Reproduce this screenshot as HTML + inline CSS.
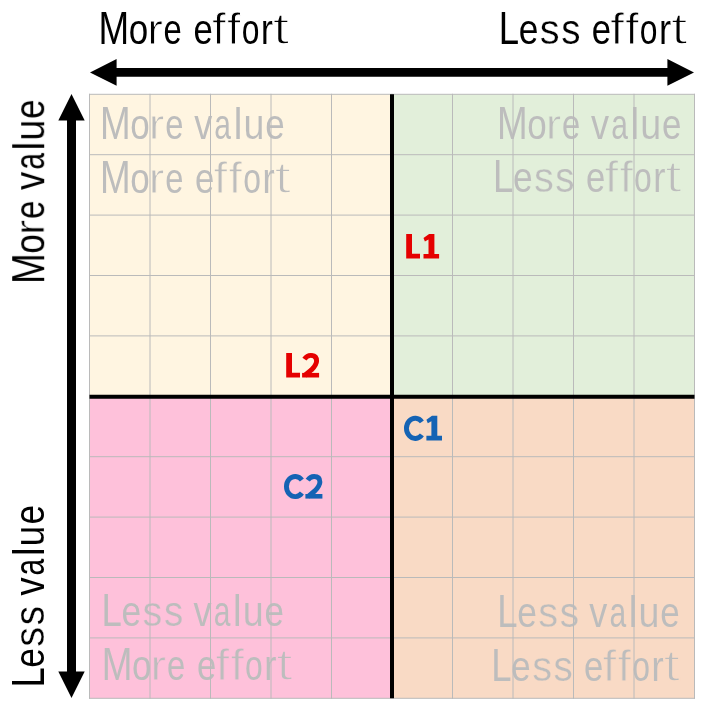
<!DOCTYPE html>
<html><head><meta charset="utf-8"><title>Value vs effort matrix</title>
<style>
html,body{margin:0;padding:0;background:#fff;width:706px;height:707px;overflow:hidden}
svg{display:block;position:absolute;left:0;top:0;will-change:transform}
text{font-family:"Liberation Sans",sans-serif;font-size:45.80px}
</style></head><body>
<svg width="706" height="707" viewBox="0 0 706 707">
<rect x="89.50" y="94.30" width="302.50" height="302.00" fill="#fff5e1"/>
<rect x="392.00" y="94.30" width="302.50" height="302.00" fill="#e2efda"/>
<rect x="89.50" y="396.30" width="302.50" height="302.00" fill="#fec1da"/>
<rect x="392.00" y="396.30" width="302.50" height="302.00" fill="#f9dac5"/>
<g id="gtext"><g id="g1" fill="#bdbdbd"><text transform="translate(100.06 139.20) scale(0.8041 1.0000)">M</text><text transform="translate(130.23 139.20) scale(0.7630 0.9200)">o</text><text transform="translate(148.73 139.20) scale(1.0236 0.9200)" stroke="#fff5e1" stroke-width="0.899">r</text><text transform="translate(165.21 139.20) scale(0.7166 0.9200)">e</text><text transform="translate(194.18 139.20) scale(0.7881 0.9200)">v</text><text transform="translate(214.33 139.20) scale(0.6546 0.9200)">a</text><text transform="translate(233.69 139.20) scale(0.8446 0.9600)">l</text><text transform="translate(243.40 139.20) scale(0.8230 0.9200)" stroke="#fff5e1" stroke-width="0.137">u</text><text transform="translate(265.22 139.20) scale(0.7631 0.9200)">e</text></g><g id="g2" fill="#bdbdbd"><text transform="translate(100.06 193.40) scale(0.8041 1.0000)">M</text><text transform="translate(130.23 193.40) scale(0.7630 0.9200)">o</text><text transform="translate(148.73 193.40) scale(1.0236 0.9200)" stroke="#fff5e1" stroke-width="0.899">r</text><text transform="translate(165.21 193.40) scale(0.7166 0.9200)">e</text><text transform="translate(195.12 193.40) scale(0.7585 0.9200)">e</text><text transform="translate(213.62 193.40) scale(1.0840 0.9600)" stroke="#fff5e1" stroke-width="1.073">f</text><text transform="translate(228.58 193.40) scale(1.0594 0.9600)" stroke="#fff5e1" stroke-width="1.005">f</text><text transform="translate(243.27 193.40) scale(0.6936 0.9200)">o</text><text transform="translate(262.18 193.40) scale(0.8351 0.9200)" stroke="#fff5e1" stroke-width="0.193">r</text><text transform="translate(274.20 193.40) scale(1.3298 0.9600)" stroke="#fff5e1" stroke-width="1.619">t</text></g><g id="g3" fill="#bdbdbd"><text transform="translate(496.96 138.60) scale(0.8041 1.0000)">M</text><text transform="translate(527.13 138.60) scale(0.7630 0.9200)">o</text><text transform="translate(545.63 138.60) scale(1.0236 0.9200)" stroke="#e2efda" stroke-width="0.899">r</text><text transform="translate(562.11 138.60) scale(0.7166 0.9200)">e</text><text transform="translate(591.08 138.60) scale(0.7881 0.9200)">v</text><text transform="translate(611.23 138.60) scale(0.6546 0.9200)">a</text><text transform="translate(630.59 138.60) scale(0.8446 0.9600)">l</text><text transform="translate(640.30 138.60) scale(0.8230 0.9200)" stroke="#e2efda" stroke-width="0.137">u</text><text transform="translate(662.12 138.60) scale(0.7631 0.9200)">e</text></g><g id="g4" fill="#bdbdbd"><text transform="translate(493.00 192.20) scale(0.7978 1.0000)">L</text><text transform="translate(512.90 192.20) scale(0.7724 0.9200)">e</text><text transform="translate(533.95 192.20) scale(0.8655 0.9200)" stroke="#e2efda" stroke-width="0.328">s</text><text transform="translate(555.34 192.20) scale(0.8404 0.9200)" stroke="#e2efda" stroke-width="0.218">s</text><text transform="translate(585.92 192.20) scale(0.7585 0.9200)">e</text><text transform="translate(604.42 192.20) scale(1.0840 0.9600)" stroke="#e2efda" stroke-width="1.073">f</text><text transform="translate(619.38 192.20) scale(1.0594 0.9600)" stroke="#e2efda" stroke-width="1.005">f</text><text transform="translate(634.07 192.20) scale(0.6936 0.9200)">o</text><text transform="translate(652.98 192.20) scale(0.8351 0.9200)" stroke="#e2efda" stroke-width="0.193">r</text><text transform="translate(665.00 192.20) scale(1.3298 0.9600)" stroke="#e2efda" stroke-width="1.619">t</text></g><g id="g5" fill="#bdbdbd"><text transform="translate(101.60 626.40) scale(0.7978 1.0000)">L</text><text transform="translate(121.50 626.40) scale(0.7724 0.9200)">e</text><text transform="translate(142.55 626.40) scale(0.8655 0.9200)" stroke="#fec1da" stroke-width="0.328">s</text><text transform="translate(163.94 626.40) scale(0.8404 0.9200)" stroke="#fec1da" stroke-width="0.218">s</text><text transform="translate(193.58 626.40) scale(0.7881 0.9200)">v</text><text transform="translate(213.73 626.40) scale(0.6546 0.9200)">a</text><text transform="translate(233.09 626.40) scale(0.8446 0.9600)">l</text><text transform="translate(242.80 626.40) scale(0.8230 0.9200)" stroke="#fec1da" stroke-width="0.137">u</text><text transform="translate(264.62 626.40) scale(0.7631 0.9200)">e</text></g><g id="g6" fill="#bdbdbd"><text transform="translate(101.86 680.40) scale(0.8041 1.0000)">M</text><text transform="translate(132.03 680.40) scale(0.7630 0.9200)">o</text><text transform="translate(150.53 680.40) scale(1.0236 0.9200)" stroke="#fec1da" stroke-width="0.899">r</text><text transform="translate(167.01 680.40) scale(0.7166 0.9200)">e</text><text transform="translate(196.92 680.40) scale(0.7585 0.9200)">e</text><text transform="translate(215.42 680.40) scale(1.0840 0.9600)" stroke="#fec1da" stroke-width="1.073">f</text><text transform="translate(230.38 680.40) scale(1.0594 0.9600)" stroke="#fec1da" stroke-width="1.005">f</text><text transform="translate(245.07 680.40) scale(0.6936 0.9200)">o</text><text transform="translate(263.98 680.40) scale(0.8351 0.9200)" stroke="#fec1da" stroke-width="0.193">r</text><text transform="translate(276.00 680.40) scale(1.3298 0.9600)" stroke="#fec1da" stroke-width="1.619">t</text></g><g id="g7" fill="#bdbdbd"><text transform="translate(497.30 627.40) scale(0.7978 1.0000)">L</text><text transform="translate(517.20 627.40) scale(0.7724 0.9200)">e</text><text transform="translate(538.25 627.40) scale(0.8655 0.9200)" stroke="#f9dac5" stroke-width="0.328">s</text><text transform="translate(559.64 627.40) scale(0.8404 0.9200)" stroke="#f9dac5" stroke-width="0.218">s</text><text transform="translate(589.28 627.40) scale(0.7881 0.9200)">v</text><text transform="translate(609.43 627.40) scale(0.6546 0.9200)">a</text><text transform="translate(628.79 627.40) scale(0.8446 0.9600)">l</text><text transform="translate(638.50 627.40) scale(0.8230 0.9200)" stroke="#f9dac5" stroke-width="0.137">u</text><text transform="translate(660.32 627.40) scale(0.7631 0.9200)">e</text></g><g id="g8" fill="#bdbdbd"><text transform="translate(491.20 681.20) scale(0.7978 1.0000)">L</text><text transform="translate(511.10 681.20) scale(0.7724 0.9200)">e</text><text transform="translate(532.15 681.20) scale(0.8655 0.9200)" stroke="#f9dac5" stroke-width="0.328">s</text><text transform="translate(553.54 681.20) scale(0.8404 0.9200)" stroke="#f9dac5" stroke-width="0.218">s</text><text transform="translate(584.12 681.20) scale(0.7585 0.9200)">e</text><text transform="translate(602.62 681.20) scale(1.0840 0.9600)" stroke="#f9dac5" stroke-width="1.073">f</text><text transform="translate(617.58 681.20) scale(1.0594 0.9600)" stroke="#f9dac5" stroke-width="1.005">f</text><text transform="translate(632.27 681.20) scale(0.6936 0.9200)">o</text><text transform="translate(651.18 681.20) scale(0.8351 0.9200)" stroke="#f9dac5" stroke-width="0.193">r</text><text transform="translate(663.20 681.20) scale(1.3298 0.9600)" stroke="#f9dac5" stroke-width="1.619">t</text></g></g>
<path id="grid" d="M89.50 93.80V698.80M150.00 93.80V698.80M210.50 93.80V698.80M271.00 93.80V698.80M331.50 93.80V698.80M392.00 93.80V698.80M452.50 93.80V698.80M513.00 93.80V698.80M573.50 93.80V698.80M634.00 93.80V698.80M694.50 93.80V698.80M89.00 94.30H695.00M89.00 154.70H695.00M89.00 215.10H695.00M89.00 275.50H695.00M89.00 335.90H695.00M89.00 396.30H695.00M89.00 456.70H695.00M89.00 517.10H695.00M89.00 577.50H695.00M89.00 637.90H695.00M89.00 698.30H695.00" stroke="#bababa" stroke-width="1.00" fill="none"/>
<path id="thick" d="M392.00 94.30V698.30M89.50 396.80H694.50" stroke="#000" stroke-width="4.00" fill="none"/>
<polygon id="harrow" points="90.00,72.40 116.60,59.00 116.60,68.10 667.40,68.10 667.40,59.00 694.00,72.40 667.40,85.80 667.40,76.70 116.60,76.70 116.60,85.80" fill="#000"/>
<polygon id="varrow" points="71.50,94.00 84.70,120.50 76.00,120.50 76.00,671.50 84.70,671.50 71.50,698.00 58.30,671.50 67.00,671.50 67.00,120.50 58.30,120.50" fill="#000"/>
<g id="labels"><g id="l1" transform="translate(406.20 234.00)" fill="#e50000" stroke="#e50000" stroke-width="0"><path d="M0 0H5.8V19.8H13.8V24.5H0Z"/><path d="M22.90 0.00 L28.20 0.00 L28.20 20.00 L32.90 20.00 L32.90 24.60 L17.30 24.60 L17.30 20.00 L22.30 20.00 L22.30 5.40 L18.70 7.40 L17.30 3.90Z"/></g><g id="l2" transform="translate(286.20 352.90)" fill="#e50000" stroke="#e50000" stroke-width="0"><path d="M0 0H5.8V19.8H13.8V24.5H0Z"/><path d="M18.20 6.2C19.90 3.7 22.10 2.5 24.60 2.5C28.40 2.5 30.40 4.6 30.40 8.0C30.40 11.2 28.60 13.6 25.20 17.0L18.50 22.6" fill="none" stroke-width="4.90" stroke-linejoin="round"/><path d="M15.90 20.0H32.90V24.6H15.90Z"/></g><g id="c1" transform="translate(404.00 415.80)" fill="#1563b4" stroke="#1563b4" stroke-width="0"><path d="M17.90 6.06A8.75 10.10 0 1 0 17.90 19.04" fill="none" stroke-width="4.90"/><path d="M28.00 0.00 L33.30 0.00 L33.30 20.00 L38.00 20.00 L38.00 24.60 L22.40 24.60 L22.40 20.00 L27.40 20.00 L27.40 5.40 L23.80 7.40 L22.40 3.90Z"/></g><g id="c2" transform="translate(284.00 474.00)" fill="#1563b4" stroke="#1563b4" stroke-width="0"><path d="M17.90 6.06A8.75 10.10 0 1 0 17.90 19.04" fill="none" stroke-width="4.90"/><path d="M23.70 6.2C25.40 3.7 27.60 2.5 30.10 2.5C33.90 2.5 35.90 4.6 35.90 8.0C35.90 11.2 34.10 13.6 30.70 17.0L24.00 22.6" fill="none" stroke-width="4.90" stroke-linejoin="round"/><path d="M21.40 20.0H38.40V24.6H21.40Z"/></g></g>
<g id="otext"><g id="t1" fill="#000"><text transform="translate(98.46 44.00) scale(0.8041 1.0000)">M</text><text transform="translate(128.63 44.00) scale(0.7630 0.9200)">o</text><text transform="translate(147.13 44.00) scale(1.0236 0.9200)" stroke="#fff" stroke-width="0.899">r</text><text transform="translate(163.61 44.00) scale(0.7166 0.9200)">e</text><text transform="translate(193.52 44.00) scale(0.7585 0.9200)">e</text><text transform="translate(212.02 44.00) scale(1.0840 0.9600)" stroke="#fff" stroke-width="1.073">f</text><text transform="translate(226.98 44.00) scale(1.0594 0.9600)" stroke="#fff" stroke-width="1.005">f</text><text transform="translate(241.67 44.00) scale(0.6936 0.9200)">o</text><text transform="translate(260.58 44.00) scale(0.8351 0.9200)" stroke="#fff" stroke-width="0.193">r</text><text transform="translate(272.60 44.00) scale(1.3298 0.9600)" stroke="#fff" stroke-width="1.619">t</text></g><g id="t2" fill="#000"><text transform="translate(498.80 43.70) scale(0.7978 1.0000)">L</text><text transform="translate(518.70 43.70) scale(0.7724 0.9200)">e</text><text transform="translate(539.75 43.70) scale(0.8655 0.9200)" stroke="#fff" stroke-width="0.328">s</text><text transform="translate(561.14 43.70) scale(0.8404 0.9200)" stroke="#fff" stroke-width="0.218">s</text><text transform="translate(591.72 43.70) scale(0.7585 0.9200)">e</text><text transform="translate(610.22 43.70) scale(1.0840 0.9600)" stroke="#fff" stroke-width="1.073">f</text><text transform="translate(625.18 43.70) scale(1.0594 0.9600)" stroke="#fff" stroke-width="1.005">f</text><text transform="translate(639.87 43.70) scale(0.6936 0.9200)">o</text><text transform="translate(658.78 43.70) scale(0.8351 0.9200)" stroke="#fff" stroke-width="0.193">r</text><text transform="translate(670.80 43.70) scale(1.3298 0.9600)" stroke="#fff" stroke-width="1.619">t</text></g><g id="t3" fill="#000" transform="matrix(0 -1 1 0 44.20 280.90)"><text transform="translate(-3.04 0) scale(0.8041 1.0000)">M</text><text transform="translate(27.13 0) scale(0.7630 0.9200)">o</text><text transform="translate(45.63 0) scale(1.0236 0.9200)" stroke="#fff" stroke-width="0.899">r</text><text transform="translate(62.11 0) scale(0.7166 0.9200)">e</text><text transform="translate(91.08 0) scale(0.7881 0.9200)">v</text><text transform="translate(111.23 0) scale(0.6546 0.9200)">a</text><text transform="translate(130.59 0) scale(0.8446 0.9600)">l</text><text transform="translate(140.30 0) scale(0.8230 0.9200)" stroke="#fff" stroke-width="0.137">u</text><text transform="translate(162.12 0) scale(0.7631 0.9200)">e</text></g><g id="t4" fill="#000" transform="matrix(0 -1 1 0 44.20 684.60)"><text transform="translate(-3.00 0) scale(0.7978 1.0000)">L</text><text transform="translate(16.90 0) scale(0.7724 0.9200)">e</text><text transform="translate(37.95 0) scale(0.8655 0.9200)" stroke="#fff" stroke-width="0.328">s</text><text transform="translate(59.34 0) scale(0.8404 0.9200)" stroke="#fff" stroke-width="0.218">s</text><text transform="translate(88.98 0) scale(0.7881 0.9200)">v</text><text transform="translate(109.13 0) scale(0.6546 0.9200)">a</text><text transform="translate(128.49 0) scale(0.8446 0.9600)">l</text><text transform="translate(138.20 0) scale(0.8230 0.9200)" stroke="#fff" stroke-width="0.137">u</text><text transform="translate(160.02 0) scale(0.7631 0.9200)">e</text></g></g>
</svg>
</body></html>
